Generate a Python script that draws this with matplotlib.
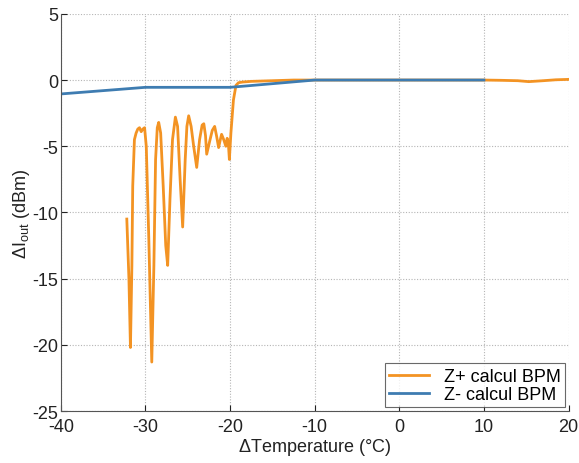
#! /usr/bin/env python3
# Delta I_out vs temperature, Z+ / Z- BPM calculation

import matplotlib.pyplot as plt

plt.rcParams["font.family"] = ["Liberation Sans", "DejaVu Sans"]
plt.rcParams["mathtext.fontset"] = "custom"
plt.rcParams["mathtext.rm"] = "Liberation Sans"

# Z+ calcul BPM (orange)
temp_zplus = [-32.2, -31.95, -31.77, -31.6, -31.5, -31.3, -31.1, -30.9, -30.7, -30.5,
              -30.3, -30.1, -29.9, -29.6, -29.25, -29.0, -28.8, -28.6, -28.43, -28.2,
              -27.9, -27.6, -27.37, -27.1, -26.8, -26.46, -26.2, -25.9, -25.6, -25.3,
              -25.1, -24.89, -24.6, -24.3, -23.94, -23.6, -23.3, -23.1, -22.9, -22.76,
              -22.4, -22.1, -21.82, -21.6, -21.35, -21.15, -21.0, -20.75, -20.5, -20.34,
              -20.2, -20.08, -19.9, -19.6, -19.3, -19.0, -18.5, -17.5, -15.0, -12.5,
              -10.0, -5.0, 0.0, 5.0, 10.0, 12.0, 14.0, 15.3, 17.0, 18.5, 20.0]
dI_zplus = [-10.5, -15.0, -20.2, -14.0, -8.0, -4.5, -4.0, -3.7, -3.6, -3.9,
            -3.7, -3.6, -5.0, -12.0, -21.3, -14.0, -6.0, -3.6, -3.2, -4.0,
            -8.0, -12.5, -14.0, -9.0, -4.5, -2.8, -3.5, -7.5, -11.1, -6.0,
            -3.5, -2.7, -3.5, -5.0, -6.6, -4.5, -3.4, -3.3, -4.2, -5.6,
            -4.6, -3.8, -3.5, -4.2, -5.1, -4.5, -4.1, -4.5, -5.0, -4.4,
            -4.8, -6.0, -4.0, -1.5, -0.4, -0.2, -0.15, -0.1, -0.05, 0.0,
            0.0, 0.0, 0.0, 0.0, 0.0, -0.02, -0.05, -0.12, -0.05, 0.02, 0.05]

# Z- calcul BPM (blue)
temp_zminus = [-40.0, -30.0, -20.0, -10.0, 0.0, 10.0]
dI_zminus = [-1.05, -0.55, -0.55, 0.0, 0.0, 0.0]

xticks = [-40, -30, -20, -10, 0, 10, 20]
yticks = [5, 0, -5, -10, -15, -20, -25]

fig = plt.figure(figsize=(5.79, 4.64), dpi=100)
ax = fig.add_axes([0.105, 0.112, 0.877, 0.856])

ax.plot(temp_zplus, dI_zplus, color="#F39323", lw=2, label="Z+ calcul BPM")
ax.plot(temp_zminus, dI_zminus, color="#3E7CB1", lw=2, label="Z- calcul BPM")

ax.set_xlim(-40, 20)
ax.set_ylim(-25, 5)
ax.set_xticks(xticks)
ax.set_yticks(yticks)
ax.set_yticklabels([str(v) for v in yticks])
ax.set_xticklabels([str(v) for v in xticks])
ax.tick_params(direction="in", labelsize=13, length=4, colors="#222222")
ax.tick_params(axis="y", pad=2)
ax.tick_params(axis="x", pad=5)
ax.grid(True, linestyle=(0, (1, 1.5)), color="#b5b5b5", lw=0.8)

# box off, like the original
ax.spines["top"].set_visible(False)
ax.spines["right"].set_visible(False)
for s in ["left", "bottom"]:
    ax.spines[s].set_color("#555555")

ax.set_xlabel(r"$\Delta$Temperature (°C)", fontsize=13, labelpad=1, color="#222222")
ax.set_ylabel(r"$\Delta$I$_{\mathrm{out}}$ (dBm)", fontsize=13, labelpad=0, color="#222222")

leg = ax.legend(loc="lower right", fontsize=13, fancybox=False, borderaxespad=0.2,
                handlelength=2.2, borderpad=0.25, labelspacing=0.05)
leg.get_frame().set_edgecolor("#444444")
leg.get_frame().set_linewidth(0.8)

fig.savefig("out.png", dpi=100)
